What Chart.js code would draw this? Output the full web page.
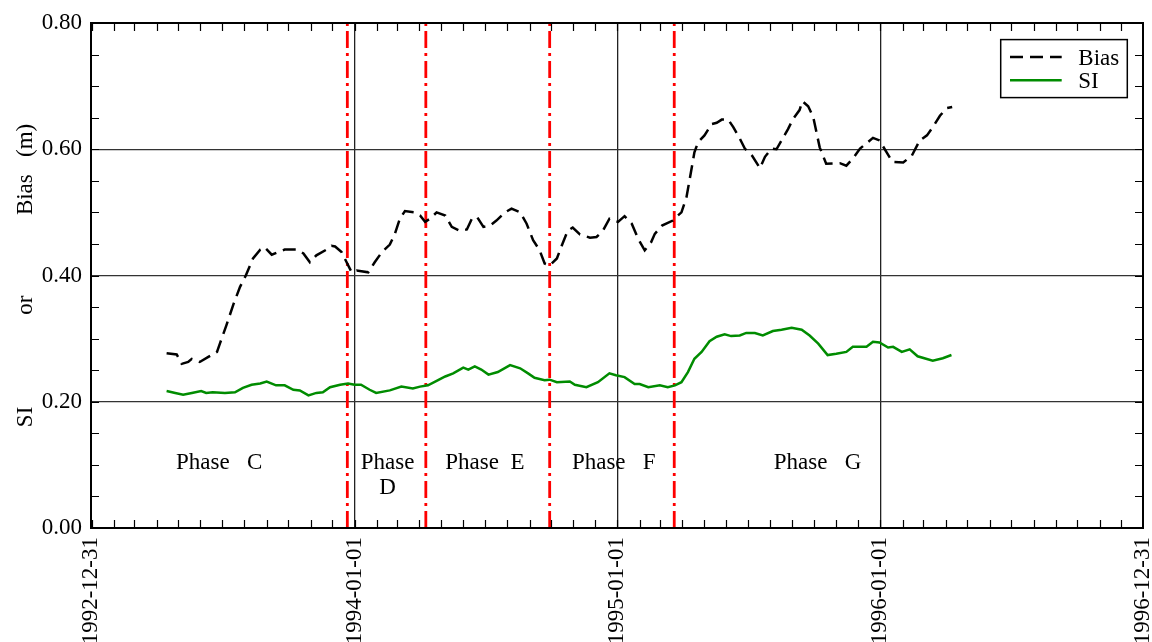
<!DOCTYPE html>
<html>
<head>
<meta charset="utf-8">
<script src="https://cdn.jsdelivr.net/npm/chart.js@4.4.1/dist/chart.umd.min.js"></script>
<style>
  html, body { margin: 0; padding: 0; background: #fff; }
  #wrap { width: 1152px; height: 642px; position: relative; }
</style>
</head>
<body>
<div id="wrap"><canvas id="myChart"></canvas></div>
<script>
const FONT = "'Liberation Serif', 'Times New Roman', serif";
const FSIZE = 23;

// Bias (m), running values
const biasDates = [
  '1993-04-15','1993-04-29','1993-05-06','1993-05-15','1993-05-20','1993-05-31','1993-06-12','1993-06-24',
  '1993-06-28','1993-07-07','1993-07-17','1993-07-26','1993-08-03','1993-08-13','1993-08-23','1993-08-29',
  '1993-09-08','1993-09-19','1993-09-26','1993-10-13','1993-10-22','1993-10-31','1993-11-09','1993-11-23',
  '1993-11-30','1993-12-05','1993-12-14','1993-12-21','1993-12-28','1994-01-04','1994-01-20','1994-01-29',
  '1994-02-08','1994-02-19','1994-02-26','1994-03-05','1994-03-12','1994-03-26','1994-04-02','1994-04-09',
  '1994-04-16','1994-04-25','1994-05-07','1994-05-16','1994-05-27','1994-06-06','1994-06-13','1994-06-20',
  '1994-06-29','1994-07-08','1994-07-17','1994-07-29','1994-08-07','1994-08-19','1994-08-28','1994-09-06',
  '1994-09-15','1994-09-22','1994-09-29','1994-10-09','1994-10-15','1994-10-24','1994-10-31','1994-11-10',
  '1994-11-24','1994-12-03','1994-12-12','1994-12-21','1995-01-02','1995-01-11','1995-01-21','1995-01-30',
  '1995-02-08','1995-02-17','1995-02-22','1995-03-04','1995-03-19','1995-03-26','1995-03-31','1995-04-07',
  '1995-04-12','1995-04-18','1995-04-23','1995-05-02','1995-05-12','1995-05-19','1995-05-26','1995-06-04',
  '1995-06-11','1995-06-20','1995-06-27','1995-07-07','1995-07-18','1995-07-25','1995-08-03','1995-08-10',
  '1995-08-17','1995-08-26','1995-09-02','1995-09-11','1995-09-15','1995-09-23','1995-09-30','1995-10-09',
  '1995-10-18','1995-11-06','1995-11-15','1995-11-24','1995-12-04','1995-12-22','1995-12-31','1996-01-10',
  '1996-01-18','1996-02-02','1996-02-14','1996-02-25','1996-03-06','1996-03-14','1996-03-24','1996-04-02',
  '1996-04-10'
];
const biasValues = [
  0.277, 0.275, 0.260, 0.263, 0.268, 0.263, 0.271, 0.279,
  0.292, 0.321, 0.355, 0.382, 0.400, 0.427, 0.441, 0.445,
  0.433, 0.438, 0.441, 0.441, 0.435, 0.421, 0.432, 0.441,
  0.447, 0.446, 0.437, 0.421, 0.405, 0.408, 0.405, 0.421,
  0.437, 0.449, 0.466, 0.490, 0.502, 0.500, 0.495, 0.485,
  0.490, 0.500, 0.495, 0.477, 0.471, 0.473, 0.490, 0.493,
  0.477, 0.479, 0.487, 0.500, 0.506, 0.500, 0.482, 0.456,
  0.440, 0.419, 0.416, 0.427, 0.445, 0.471, 0.476, 0.465,
  0.460, 0.461, 0.471, 0.490, 0.485, 0.494, 0.482, 0.458,
  0.440, 0.453, 0.466, 0.479, 0.487, 0.495, 0.500, 0.524,
  0.556, 0.595, 0.611, 0.622, 0.640, 0.642, 0.647, 0.647,
  0.635, 0.617, 0.601, 0.590, 0.570, 0.588, 0.601, 0.600,
  0.614, 0.632, 0.648, 0.662, 0.676, 0.668, 0.651, 0.603,
  0.577, 0.578, 0.574, 0.585, 0.601, 0.618, 0.614, 0.595,
  0.580, 0.579, 0.590, 0.614, 0.622, 0.635, 0.653, 0.665,
  0.667
];

// SI, running values
const siDates = [
  '1993-04-15','1993-04-27','1993-05-08','1993-05-20','1993-06-02','1993-06-09','1993-06-18','1993-07-05',
  '1993-07-19','1993-07-30','1993-08-11','1993-08-23','1993-09-01','1993-09-14','1993-09-26','1993-10-08',
  '1993-10-17','1993-10-29','1993-11-09','1993-11-18','1993-11-28','1993-12-12','1993-12-23','1994-01-01',
  '1994-01-10','1994-01-22','1994-01-31','1994-02-19','1994-03-07','1994-03-23','1994-04-02','1994-04-13',
  '1994-04-25','1994-05-07','1994-05-18','1994-06-01','1994-06-08','1994-06-17','1994-06-26','1994-07-06',
  '1994-07-19','1994-08-05','1994-08-19','1994-08-30','1994-09-08','1994-09-22','1994-09-29','1994-10-09',
  '1994-10-27','1994-11-03','1994-11-19','1994-12-05','1994-12-21','1994-12-30','1995-01-11','1995-01-25',
  '1995-02-01','1995-02-13','1995-03-01','1995-03-12','1995-03-22','1995-03-31','1995-04-09','1995-04-18',
  '1995-04-28','1995-05-09','1995-05-19','1995-05-30','1995-06-08','1995-06-20','1995-06-29','1995-07-11',
  '1995-07-22','1995-08-05','1995-08-17','1995-08-31','1995-09-14','1995-09-25','1995-10-07','1995-10-20',
  '1995-11-01','1995-11-15','1995-11-24','1995-12-13','1995-12-22','1995-12-31','1996-01-12','1996-01-19',
  '1996-01-31','1996-02-11','1996-02-22','1996-03-14','1996-03-28','1996-04-09'
];
const siValues = [
  0.217, 0.214, 0.211, 0.214, 0.217, 0.214, 0.215, 0.214,
  0.215, 0.222, 0.227, 0.229, 0.232, 0.226, 0.226, 0.219,
  0.218, 0.210, 0.214, 0.215, 0.223, 0.227, 0.229, 0.227,
  0.227, 0.219, 0.214, 0.218, 0.224, 0.221, 0.224, 0.226,
  0.233, 0.240, 0.245, 0.254, 0.251, 0.256, 0.251, 0.243,
  0.247, 0.258, 0.253, 0.245, 0.238, 0.234, 0.235, 0.231,
  0.232, 0.227, 0.223, 0.231, 0.245, 0.242, 0.239, 0.228,
  0.228, 0.223, 0.226, 0.223, 0.226, 0.231, 0.247, 0.268,
  0.279, 0.296, 0.303, 0.307, 0.304, 0.305, 0.309, 0.309,
  0.305, 0.312, 0.314, 0.317, 0.314, 0.305, 0.292, 0.274,
  0.276, 0.279, 0.287, 0.287, 0.295, 0.294, 0.286, 0.287,
  0.279, 0.283, 0.272, 0.265, 0.269, 0.274
];

// phase boundaries and names
const phaseBounds = ['1993-12-22', '1994-04-10', '1994-09-29', '1995-03-21'];
const phaseNames = ['Phase   C', 'Phase\nD', 'Phase  E', 'Phase   F', 'Phase   G'];
const phaseLabelAt = ['1993-06-27', '1994-02-16', '1994-07-01', '1994-12-27', '1995-10-06'];

// axis
const xStart = '1992-12-31';
const xEnd = '1996-12-31';
const xTickLabels = ['1992-12-31', '1994-01-01', '1995-01-01', '1996-01-01', '1996-12-31'];
const yearLines = ['1994-01-01', '1995-01-01', '1996-01-01'];
const yTitleParts = [['Bias   (m)', 0.568], ['or', 0.353], ['SI', 0.176]];

const toTime = d => Date.parse(d);
const fmtDate = v => new Date(v).toISOString().slice(0, 10);

// month starts for the small ticks
const monthTicks = [];
for (let yr = 1993; yr <= 1996; yr++) {
  for (let m = 0; m < 12; m++) monthTicks.push(Date.UTC(yr, m, 1));
}
const xTickTimes = [toTime(xStart)].concat(monthTicks, [toTime(xEnd)]);
const labelTimes = xTickLabels.map(toTime);
const yearTimes = yearLines.map(toTime);

const datasets = [
  {
    label: 'Bias',
    data: biasDates.map((d, i) => ({ x: toTime(d), y: biasValues[i] })),
    borderColor: '#000',
    borderWidth: 2.5,
    borderDash: [13, 7],
    pointRadius: 0,
    tension: 0
  },
  {
    label: 'SI',
    data: siDates.map((d, i) => ({ x: toTime(d), y: siValues[i] })),
    borderColor: 'rgb(0,140,0)',
    borderWidth: 2.5,
    pointRadius: 0,
    tension: 0
  }
];
phaseBounds.forEach(d => {
  datasets.push({
    label: 'bound',
    data: [{ x: toTime(d), y: 0 }, { x: toTime(d), y: 0.8 }],
    borderColor: '#ff0000',
    borderWidth: 2.8,
    borderDash: [17, 5, 3, 5],
    pointRadius: 0
  });
});

const decor = {
  id: 'decor',
  afterDatasetsDraw(chart) {
    const { ctx, scales: { x, y } } = chart;
    ctx.save();
    ctx.fillStyle = '#000';
    ctx.font = FSIZE + 'px ' + FONT;
    ctx.textAlign = 'center';
    ctx.textBaseline = 'alphabetic';
    const lineY = [0.094, 0.0545];
    phaseNames.forEach((name, i) => {
      const px = x.getPixelForValue(toTime(phaseLabelAt[i]));
      name.split('\n').forEach((line, k) => {
        ctx.fillText(line, px, y.getPixelForValue(lineY[k]));
      });
    });
    ctx.restore();
  },
  afterDraw(chart) {
    const { ctx, chartArea: a, scales: { x, y } } = chart;
    ctx.save();
    ctx.strokeStyle = '#000';

    // small inward ticks
    ctx.lineWidth = 1.2;
    ctx.beginPath();
    monthTicks.forEach(t => {
      const px = Math.round(x.getPixelForValue(t)) + 0.5;
      ctx.moveTo(px, a.bottom); ctx.lineTo(px, a.bottom - 8);
      ctx.moveTo(px, a.top); ctx.lineTo(px, a.top + 8);
    });
    for (let v = 0.05; v < 0.8; v += 0.05) {
      const py = Math.round(y.getPixelForValue(v)) + 0.5;
      ctx.moveTo(a.left, py); ctx.lineTo(a.left + 8, py);
      ctx.moveTo(a.right, py); ctx.lineTo(a.right - 8, py);
    }
    ctx.stroke();

    // frame
    ctx.lineWidth = 2;
    ctx.strokeRect(a.left, a.top, a.right - a.left, a.bottom - a.top);

    // y axis title
    ctx.fillStyle = '#000';
    ctx.font = FSIZE + 'px ' + FONT;
    ctx.textAlign = 'center';
    ctx.textBaseline = 'alphabetic';
    ctx.save();
    ctx.translate(32, 0);
    ctx.rotate(-Math.PI / 2);
    yTitleParts.forEach(([txt, v]) => ctx.fillText(txt, -y.getPixelForValue(v), 0));
    ctx.restore();

    // legend box
    const bx = a.right - 142.3, by = a.top + 16.6, bw = 126.6, bh = 58;
    ctx.fillStyle = '#fff';
    ctx.fillRect(bx, by, bw, bh);
    ctx.lineWidth = 1.5;
    ctx.strokeRect(bx, by, bw, bh);
    chart.data.datasets.slice(0, 2).forEach((ds, i) => {
      const ly = by + 17.4 + i * 23.3;
      ctx.save();
      ctx.strokeStyle = ds.borderColor;
      ctx.lineWidth = ds.borderWidth;
      ctx.setLineDash(ds.borderDash || []);
      ctx.beginPath();
      ctx.moveTo(bx + 9.3, ly);
      ctx.lineTo(bx + 61, ly);
      ctx.stroke();
      ctx.restore();
      ctx.fillStyle = '#000';
      ctx.textAlign = 'left';
      ctx.fillText(ds.label, bx + 77.6, ly + 7.5);
    });
    ctx.restore();
  }
};

const ctx = document.getElementById('myChart');
const myChart = new Chart(ctx, {
  type: 'line',
  data: { datasets: datasets },
  plugins: [decor],
  options: {
    responsive: true,
    maintainAspectRatio: false,
    animation: false,
    events: [],
    layout: { autoPadding: false, padding: { top: 23, right: 9, bottom: 0, left: 0 } },
    plugins: { legend: { display: false }, tooltip: { enabled: false } },
    scales: {
      x: {
        type: 'linear',
        min: toTime(xStart),
        max: toTime(xEnd),
        afterBuildTicks: scale => { scale.ticks = xTickTimes.map(v => ({ value: v })); },
        afterFit: scale => { scale.height = 114; scale.paddingLeft = 0; scale.paddingRight = 0; },
        border: { display: false },
        grid: {
          drawTicks: false,
          lineWidth: 1.3,
          color: c => (c.tick && yearTimes.includes(c.tick.value)) ? '#222' : 'rgba(0,0,0,0)'
        },
        ticks: {
          autoSkip: false,
          minRotation: 90,
          maxRotation: 90,
          padding: 9,
          color: '#000',
          font: { family: FONT, size: FSIZE },
          callback: v => labelTimes.includes(v) ? fmtDate(v) : ''
        }
      },
      y: {
        min: 0,
        max: 0.8,
        afterFit: scale => { scale.width = 91; scale.paddingTop = 0; scale.paddingBottom = 0; },
        border: { display: false },
        grid: { drawTicks: false, lineWidth: 1.3, color: '#333' },
        ticks: {
          stepSize: 0.2,
          padding: 9,
          color: '#000',
          font: { family: FONT, size: FSIZE },
          callback: v => v.toFixed(2)
        }
      }
    }
  }
});
</script>
</body>
</html>
